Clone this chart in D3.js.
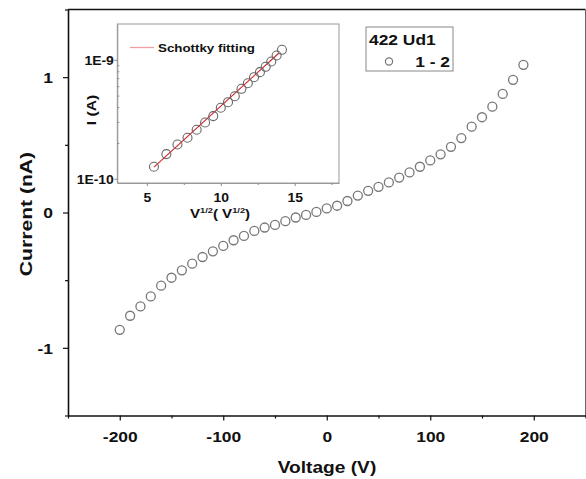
<!DOCTYPE html>
<html>
<head>
<meta charset="utf-8">
<script src="https://cdn.jsdelivr.net/npm/d3@7"></script>
<style>
  body { margin: 0; background: #fff; }
  svg { display: block; font-family: "Liberation Sans", Arial, sans-serif; font-weight: bold; }
</style>
</head>
<body>
<svg id="chart" width="586" height="479"></svg>
<script>
// main I-V sweep, sample "1 - 2"
var voltage = [-200,-190,-180,-170,-160,-150,-140,-130,-120,-110,-100,-90,-80,-70,-60,-50,-40,-30,-20,-10,
               0,10,20,30,40,50,60,70,80,90,100,110,120,130,140,150,160,170,180,190];
var current = [-0.867,-0.763,-0.694,-0.620,-0.541,-0.482,-0.427,-0.378,-0.329,-0.287,-0.247,-0.205,-0.173,-0.136,-0.111,-0.092,-0.064,-0.037,-0.018,0.004,
               0.030,0.050,0.085,0.125,0.160,0.190,0.222,0.258,0.296,0.338,0.385,0.430,0.485,0.550,0.634,0.704,0.782,0.876,0.980,1.091];

// inset: log I vs sqrt(V)
var insetSqrtV = [5.48,6.32,7.07,7.75,8.37,8.94,9.49,10.0,10.49,10.95,11.40,11.83,12.25,12.65,13.04,13.42,13.78,14.14];
var insetI = [1.26e-10,1.61e-10,1.94e-10,2.21e-10,2.58e-10,2.97e-10,3.36e-10,3.95e-10,4.40e-10,4.94e-10,
              5.70e-10,6.35e-10,7.14e-10,7.87e-10,8.73e-10,9.68e-10,1.086e-9,1.213e-9];
var fitSqrtV = [5.48, 13.92];
var fitI = [1.25e-10, 1.136e-9];

var xTicks = [-200,-100,0,100,200];
var xMinor = [-250,-150,-50,50,150,250];
var yTicks = [-1,0,1];
var yMinor = [-1.5,-0.5,0.5,1.5];
var insetXTicks = [5,10,15];
var insetXMinor = [7.5,12.5,17.5];
var insetYTicks = [1e-10,1e-9];
var insetYMinor = [2e-10,3e-10,4e-10,5e-10,6e-10,7e-10,8e-10,9e-10];

var SX = 1.16; // glyphs in the source are drawn wider than Arial
var plain = function (d) {return String(d);};  // hyphen minus, like the original

var svg = d3.select("#chart");

var x = d3.scaleLinear().domain([-250,250]).range([68,585.5]);
var y = d3.scaleLinear().domain([-1.5,1.5]).range([415.5,9.5]);

function wideText(g, px, py, str, size, anchor, sx) {
    return g.append("text")
        .attr("transform", "translate(" + px + "," + py + ") scale(" + (sx || SX) + ",1)")
        .attr("text-anchor", anchor || "start")
        .attr("font-size", size)
        .attr("fill", "#111")
        .text(str);
}

// frame top / right
svg.append("line").attr("x1",68).attr("x2",585.5).attr("y1",9.5).attr("y2",9.5)
    .attr("stroke","#111").attr("stroke-width",1.6);
svg.append("line").attr("x1",585.5).attr("x2",585.5).attr("y1",9.5).attr("y2",415.5)
    .attr("stroke","#666").attr("stroke-width",1);

// bottom axis
var gx = svg.append("g").attr("transform","translate(0,415.5)")
    .call(d3.axisBottom(x).tickValues(xTicks).tickSize(5).tickSizeOuter(0).tickFormat(plain));
gx.append("g").call(d3.axisBottom(x).tickValues(xMinor).tickSize(3).tickSizeOuter(0).tickFormat(""))
    .select(".domain").remove();
gx.selectAll("text").attr("y",null).attr("dy",null)
    .attr("transform","translate(0,26) scale(" + SX + ",1)")
    .attr("font-size",15).attr("font-family",null).attr("font-weight","bold").attr("fill","#111");

// left axis
var gy = svg.append("g").attr("transform","translate(68,0)")
    .call(d3.axisLeft(y).tickValues(yTicks).tickSize(5).tickSizeOuter(0).tickFormat(plain));
gy.append("g").call(d3.axisLeft(y).tickValues(yMinor).tickSize(3).tickSizeOuter(0).tickFormat(""))
    .select(".domain").remove();
gy.selectAll("text").attr("x",null).attr("dy","0.36em")
    .attr("transform","translate(-15,0) scale(" + SX + ",1)")
    .attr("font-size",15).attr("font-family",null).attr("font-weight","bold").attr("fill","#111");

svg.selectAll(".domain").attr("stroke","#111").attr("stroke-width",1.6);
svg.selectAll(".tick line").attr("stroke","#111").attr("stroke-width",1.2);

// axis titles
wideText(svg, 327, 473, "Voltage (V)", 16.5, "middle");
wideText(svg.append("g").attr("transform","translate(32,214) rotate(-90)"), 0, 0, "Current (nA)", 16.5, "middle", 1.28);

// main data
svg.append("g").selectAll("circle")
    .data(voltage)
    .join("circle")
    .attr("cx", function (d) {return x(d);})
    .attr("cy", function (d, i) {return y(current[i]);})
    .attr("r", 4.5)
    .attr("fill","none")
    .attr("stroke","#777")
    .attr("stroke-width",1.3);

// legend
svg.append("rect").attr("x",366).attr("y",27).attr("width",87).attr("height",44)
    .attr("fill","#fff").attr("stroke","#888").attr("stroke-width",1);
wideText(svg, 369, 45, "422 Ud1", 15, "start");
svg.append("circle").attr("cx",389).attr("cy",61.5).attr("r",3.6)
    .attr("fill","none").attr("stroke","#777").attr("stroke-width",1.2);
wideText(svg, 450, 67, "1 - 2", 15, "end");

// ---- inset ----
var ix = d3.scaleLinear().domain([3,18]).range([117.3,339]);
var iy = d3.scaleLog().domain([9.2e-11,2e-9]).range([183,24]);
var inset = svg.append("g");

inset.append("rect").attr("x",117.3).attr("y",24).attr("width",339-117.3).attr("height",159)
    .attr("fill","#fff").attr("stroke","#999").attr("stroke-width",1);

var igx = inset.append("g").attr("transform","translate(0,183)")
    .call(d3.axisBottom(ix).tickValues(insetXTicks).tickSize(3).tickSizeOuter(0).tickFormat(plain));
igx.append("g").call(d3.axisBottom(ix).tickValues(insetXMinor).tickSize(2).tickSizeOuter(0).tickFormat(""))
    .select(".domain").remove();
igx.selectAll("text").attr("y",null).attr("dy",null)
    .attr("transform","translate(0,19) scale(" + SX + ",1)")
    .attr("font-size",12).attr("font-family",null).attr("font-weight","bold").attr("fill","#111");

var igy = inset.append("g").attr("transform","translate(117.3,0)")
    .call(d3.axisLeft(iy).tickValues(insetYTicks).tickSize(3).tickSizeOuter(0)
        .tickFormat(function (d) {return "1E-" + Math.round(-Math.log10(d));}));
igy.append("g").call(d3.axisLeft(iy).tickValues(insetYMinor).tickSize(-2).tickSizeOuter(0).tickFormat(""))
    .select(".domain").remove();
igy.selectAll("text").attr("x",null).attr("dy","0.36em")
    .attr("transform","translate(-3.5,0) scale(" + SX + ",1)")
    .attr("font-size",12).attr("font-family",null).attr("font-weight","bold").attr("fill","#111");

inset.selectAll(".domain").attr("stroke","#999").attr("stroke-width",1);
inset.selectAll(".tick line").attr("stroke","#888").attr("stroke-width",1);

// inset titles
var vt = inset.append("text")
    .attr("transform","translate(220,217.5) scale(" + SX + ",1)")
    .attr("text-anchor","middle").attr("font-size",13).attr("fill","#111");
vt.append("tspan").text("V");
vt.append("tspan").attr("dy",-5).attr("font-size",8).text("1/2");
vt.append("tspan").attr("dy",5).text("( V");
vt.append("tspan").attr("dy",-5).attr("font-size",8).text("1/2");
vt.append("tspan").attr("dy",5).text(")");
wideText(inset.append("g").attr("transform","translate(96,110) rotate(-90)"), 0, 0, "I (A)", 13.5, "middle");

// fitting line
inset.append("path")
    .datum(fitSqrtV)
    .attr("d", d3.line().x(function (d) {return ix(d);}).y(function (d, i) {return iy(fitI[i]);}))
    .attr("fill","none").attr("stroke","#d8262c").attr("stroke-width",1.2);

inset.append("g").selectAll("circle")
    .data(insetSqrtV)
    .join("circle")
    .attr("cx", function (d) {return ix(d);})
    .attr("cy", function (d, i) {return iy(insetI[i]);})
    .attr("r", 4.5)
    .attr("fill","none")
    .attr("stroke","#666")
    .attr("stroke-width",1.1);

// inset legend
inset.append("line").attr("x1",130).attr("x2",154).attr("y1",47.5).attr("y2",47.5)
    .attr("stroke","#f0a0a0").attr("stroke-width",1.3);
wideText(inset, 158, 51.5, "Schottky fitting", 11.5, "start");
</script>
</body>
</html>
